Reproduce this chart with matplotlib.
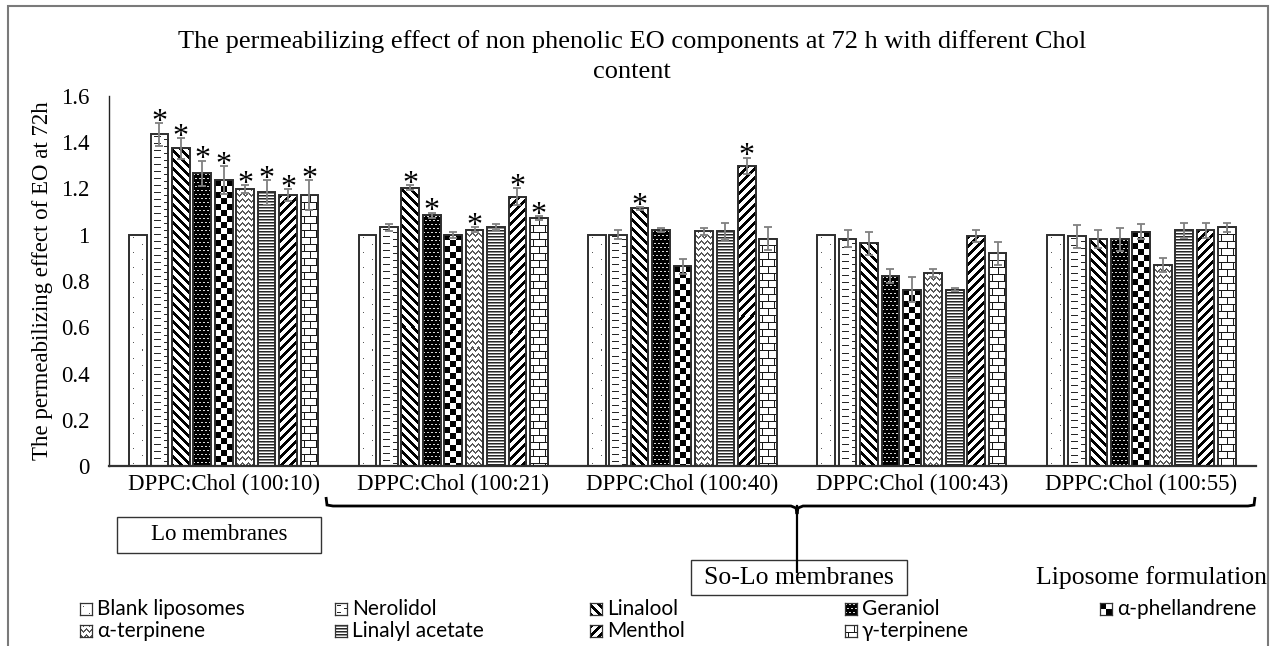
import numpy as np
import matplotlib
matplotlib.use("Agg")
import matplotlib.pyplot as plt
from matplotlib.patches import Rectangle, PathPatch
from matplotlib.lines import Line2D
from matplotlib.path import Path

# ---------------- data ----------------
categories = ["DPPC:Chol (100:10)", "DPPC:Chol (100:21)", "DPPC:Chol (100:40)",
              "DPPC:Chol (100:43)", "DPPC:Chol (100:55)"]
series_names = ["Blank liposomes", "Nerolidol", "Linalool", "Geraniol", "α-phellandrene",
                "α-terpinene", "Linalyl acetate", "Menthol", "γ-terpinene"]

blank_liposomes = [1.00, 1.00, 1.00, 1.00, 1.00]
nerolidol       = [1.435, 1.033, 1.000, 0.983, 0.994]
linalool        = [1.373, 1.204, 1.114, 0.963, 0.981]
geraniol        = [1.266, 1.084, 1.020, 0.820, 0.981]
a_phellandrene  = [1.236, 1.000, 0.864, 0.763, 1.013]
a_terpinene     = [1.197, 1.022, 1.015, 0.833, 0.869]
linalyl_acetate = [1.183, 1.033, 1.015, 0.763, 1.019]
menthol         = [1.171, 1.165, 1.298, 0.994, 1.019]
g_terpinene     = [1.171, 1.072, 0.983, 0.919, 1.032]

err_blank      = [0, 0, 0, 0, 0]
err_nerolidol  = [0.050, 0.015, 0.020, 0.036, 0.050]
err_linalool   = [0.045, 0.012, 0.007, 0.050, 0.038]
err_geraniol   = [0.055, 0.012, 0.010, 0.030, 0.050]
err_aphell     = [0.060, 0.013, 0.032, 0.055, 0.032]
err_aterp      = [0.017, 0.012, 0.016, 0.017, 0.030]
err_linalyl    = [0.053, 0.012, 0.037, 0.006, 0.032]
err_menthol    = [0.026, 0.036, 0.036, 0.026, 0.032]
err_gterp      = [0.065, 0.009, 0.050, 0.050, 0.019]

star_blank     = [0, 0, 0, 0, 0]
star_nerolidol = [1, 0, 0, 0, 0]
star_linalool  = [1, 1, 1, 0, 0]
star_geraniol  = [1, 1, 0, 0, 0]
star_aphell    = [1, 0, 0, 0, 0]
star_aterp     = [1, 1, 0, 0, 0]
star_linalyl   = [1, 0, 0, 0, 0]
star_menthol   = [1, 1, 1, 0, 0]
star_gterp     = [1, 1, 0, 0, 0]

yticks = [0, 0.2, 0.4, 0.6, 0.8, 1.0, 1.2, 1.4, 1.6]
ytick_labels = ["0", "0.2", "0.4", "0.6", "0.8", "1", "1.2", "1.4", "1.6"]

values = [blank_liposomes, nerolidol, linalool, geraniol, a_phellandrene,
          a_terpinene, linalyl_acetate, menthol, g_terpinene]
errors = [err_blank, err_nerolidol, err_linalool, err_geraniol, err_aphell,
          err_aterp, err_linalyl, err_menthol, err_gterp]
stars = [star_blank, star_nerolidol, star_linalool, star_geraniol, star_aphell,
         star_aterp, star_linalyl, star_menthol, star_gterp]

# ---------------- fill patterns (pixel level) ----------------
def pat_dots(h, w):
    a = np.ones((h, w))
    for r in range(3, h, 15):
        a[r, min(w - 1, int(round(w * 0.25)))] = 0.35
    for r in range(10, h, 15):
        a[r, min(w - 1, int(round(w * 0.72)))] = 0.35
    return a

def pat_dashes(h, w):
    a = np.ones((h, w))
    for r in range(2, h, 7):
        a[r, int(w * 0.22):int(w * 0.58)] = 0.15
    for r in range(5, h, 7):
        a[r, int(w * 0.75):] = 0.15
    return a

def pat_diag(h, w, sign, period=9, thick=4):
    r, c = np.mgrid[0:h, 0:w]
    v = (r - sign * c) % period
    return np.where(v < thick, 0.0, 1.0)

def pat_linalool(h, w):
    return pat_diag(h, w, 1)

def pat_menthol(h, w):
    return pat_diag(h, w, -1)

def pat_geraniol(h, w):
    a = np.zeros((h, w))
    r, c = np.mgrid[0:h, 0:w]
    mask = (r % 4 == 1) & (((c + 2 * ((r // 4) % 2)) % 4) < 2)
    a[mask] = 0.85
    return a

def pat_checker(h, w, s=6):
    r, c = np.mgrid[0:h, 0:w]
    return (((r // s) + (c // s)) % 2).astype(float)

def pat_chevron(h, w, p=6):
    r, c = np.mgrid[0:h, 0:w]
    tri = np.abs((c % p) - p / 2.0)
    v = (r + tri) % p
    return np.where(v < 1.3, 0.35, 1.0)

def pat_hlines(h, w):
    rr = np.arange(h) % 3
    col = np.array([0.15, 0.55, 1.0])[rr]
    return np.repeat(col[:, None], w, axis=1)

def pat_brick(h, w, bh=7, bw=12):
    a = np.ones((h, w))
    r, c = np.mgrid[0:h, 0:w]
    off = ((r // bh) % 2) * (bw // 2)
    a[((c + off + 3) % bw) == 0] = 0.1
    a[(r % bh) == 0] = 0.1
    return a

patterns = [pat_dots, pat_dashes, pat_linalool, pat_geraniol, pat_checker,
            pat_chevron, pat_hlines, pat_menthol, pat_brick]

# ---------------- figure ----------------
W, H = 1275, 646
fig = plt.figure(figsize=(W / 100, H / 100), dpi=100)
fig.patch.set_facecolor("white")

def fx(x):
    return x / W

def fy(y):
    return 1 - y / H

SERIF = ["Liberation Serif", "DejaVu Serif"]
SANS = ["Lato", "DejaVu Sans"]
FS = 16.5

ax = fig.add_axes([fx(109), fy(466), (1256 - 109) / W, (466 - 96) / H])
ax.set_xlim(-0.5, len(categories) - 0.5)
ax.set_ylim(0, 1.6)

n = len(series_names)
slot = 0.0934
bw = 0.077
x = np.arange(len(categories))
edge = "#2e2e2e"

for i in range(n):
    xs = x + (i - (n - 1) / 2) * slot
    bars = ax.bar(xs, values[i], width=bw, facecolor="none", edgecolor=edge,
                  linewidth=1.4, zorder=3)
    for rect in bars:
        bb = rect.get_window_extent()
        wpx = max(1, int(round(bb.width)))
        hpx = max(1, int(round(bb.height)))
        arr = patterns[i](hpx, wpx)
        ax.imshow(arr, extent=(rect.get_x(), rect.get_x() + rect.get_width(),
                               0, rect.get_height()),
                  cmap="gray", vmin=0, vmax=1, interpolation="nearest",
                  aspect="auto", zorder=2)
    if any(e > 0 for e in errors[i]):
        ax.errorbar(xs, values[i], yerr=errors[i], fmt="none", ecolor="#808080",
                    elinewidth=1.3, capsize=2.8, capthick=1.3, zorder=4)
    for j in range(len(categories)):
        if stars[i][j]:
            ax.annotate("*", (xs[j], values[i][j] + errors[i][j]),
                        xytext=(0, -5), textcoords="offset points",
                        ha="center", va="baseline", fontsize=23,
                        family=SERIF, zorder=5)

ax.set_xlim(-0.5, len(categories) - 0.5)
ax.set_ylim(0, 1.6)
ax.set_yticks(yticks)
ax.set_yticklabels(ytick_labels)
ax.set_xticks(x)
ax.set_xticklabels(categories)
ax.tick_params(axis="both", length=0, labelsize=FS)
ax.tick_params(axis="y", pad=14)
ax.tick_params(axis="x", pad=6)
for lab in ax.get_xticklabels() + ax.get_yticklabels():
    lab.set_family(SERIF)
for s in ["top", "right"]:
    ax.spines[s].set_visible(False)
ax.spines["left"].set_color("#222222")
ax.spines["left"].set_linewidth(1.0)
ax.spines["bottom"].set_color("#333333")
ax.spines["bottom"].set_linewidth(1.6)
ax.set_facecolor("none")

ax.set_ylabel("The permeabilizing effect of EO at 72h", family=SERIF, fontsize=FS)
ax.yaxis.labelpad = 6

# title
fig.text(fx(632), fy(42), "The permeabilizing effect of non phenolic EO components at 72 h with different Chol",
         ha="center", va="center", fontsize=19, family=SERIF)
fig.text(fx(632), fy(72), "content", ha="center", va="center", fontsize=19, family=SERIF)

# outer border
fig.add_artist(Rectangle((fx(8), fy(700)), fx(1268) - fx(8), fy(6) - fy(700),
                         transform=fig.transFigure, fill=False, edgecolor="#7a7a7a",
                         linewidth=1.5))

# brace across So-Lo groups
verts = [(326, 497), (327, 505), (333, 506), (791, 506), (796, 508), (797, 514),
         (798, 508), (803, 506), (1248, 506), (1254, 505), (1255, 497)]
codes = [Path.MOVETO] + [Path.LINETO] * (len(verts) - 1)
fig.add_artist(PathPatch(Path([(fx(a), fy(b)) for a, b in verts], codes),
                         transform=fig.transFigure, fill=False, edgecolor="black",
                         linewidth=2.0))

# boxes
fig.add_artist(Rectangle((fx(117), fy(553)), fx(321) - fx(117), fy(517) - fy(553),
                         transform=fig.transFigure, facecolor="white", edgecolor="#333333",
                         linewidth=1.0))
fig.text(fx(219), fy(535), "Lo membranes", ha="center", va="center", fontsize=FS, family=SERIF)
fig.add_artist(Rectangle((fx(691), fy(595)), fx(907) - fx(691), fy(560) - fy(595),
                         transform=fig.transFigure, facecolor="white", edgecolor="#333333",
                         linewidth=1.0))
fig.add_artist(Line2D([fx(797), fx(797)], [fy(506), fy(572)], transform=fig.transFigure,
                      color="black", linewidth=1.6))
fig.text(fx(799), fy(578), "So-Lo membranes", ha="center", va="center", fontsize=18.5, family=SERIF)
fig.text(fx(1151), fy(578), "Liposome formulation", ha="center", va="center", fontsize=18.5, family=SERIF)

# legend (manual, two rows, five columns)
leg_x0, leg_dx = 80, 255
leg_rows = [609, 631]
for i, name in enumerate(series_names):
    row, col = divmod(i, 5)
    mx = leg_x0 + col * leg_dx
    my = leg_rows[row]
    lax = fig.add_axes([fx(mx), fy(my + 6), 12 / W, 12 / H])
    lax.imshow(patterns[i](12, 12), cmap="gray", vmin=0, vmax=1,
               interpolation="nearest", aspect="auto")
    lax.set_xticks([])
    lax.set_yticks([])
    for s in lax.spines.values():
        s.set_linewidth(0.9)
        s.set_color("#333333")
    fig.text(fx(mx + 17), fy(my), name, ha="left", va="center", fontsize=15, family=SANS)

fig.savefig("out.png", dpi=100)
